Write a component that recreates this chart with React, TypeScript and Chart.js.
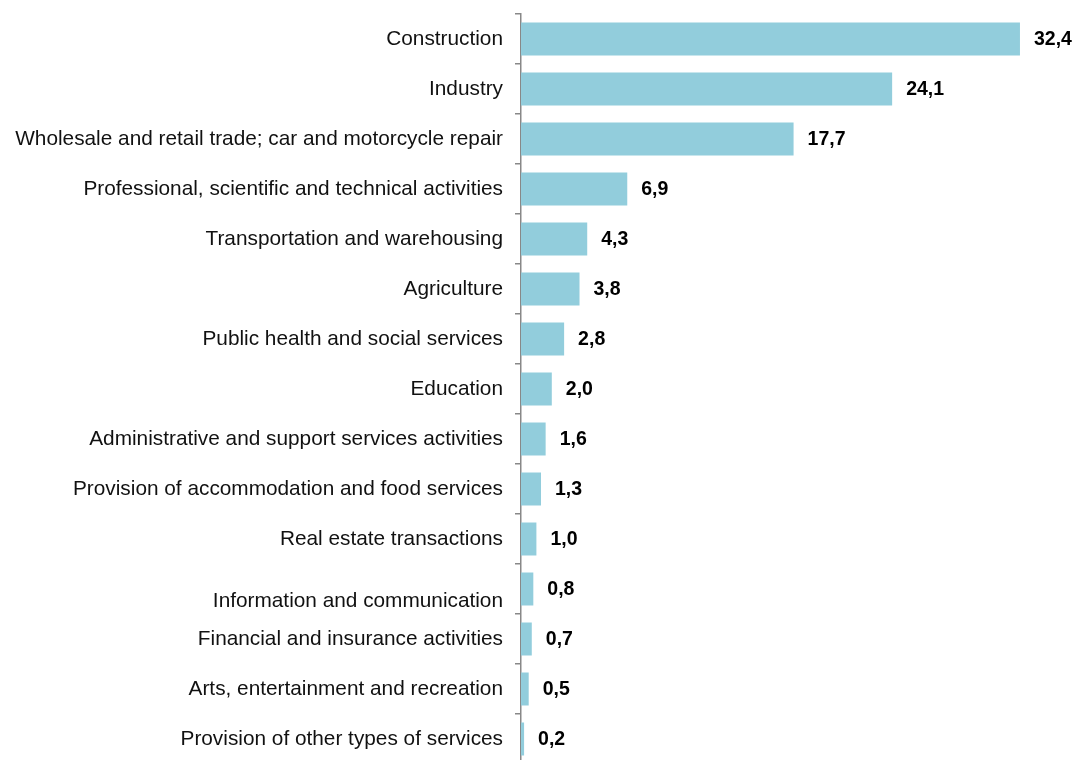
import React, { useEffect, useRef } from "react";
import { Chart, registerables } from "chart.js";

Chart.register(...registerables);

const categories: (string | string[])[] = [
  "Construction",
  "Industry",
  "Wholesale and retail trade; car and motorcycle repair",
  "Professional, scientific and technical activities",
  "Transportation and warehousing",
  "Agriculture",
  "Public health and social services",
  "Education",
  "Administrative and support services activities",
  "Provision of accommodation and food services",
  "Real estate transactions",
  ["", "Information and communication"],
  "Financial and insurance activities",
  "Arts, entertainment and recreation",
  "Provision of other types of services",
];

const values: number[] = [32.4, 24.1, 17.7, 6.9, 4.3, 3.8, 2.8, 2.0, 1.6, 1.3, 1.0, 0.8, 0.7, 0.5, 0.2];

const FONT = "'Liberation Sans', Arial, sans-serif";

const valueLabels = {
  id: "valueLabels",
  afterDatasetsDraw(chart: any) {
    const ctx = chart.ctx;
    const meta = chart.getDatasetMeta(0);
    ctx.save();
    ctx.font = `bold 19.5px ${FONT}`;
    ctx.fillStyle = "#000000";
    ctx.textAlign = "left";
    ctx.textBaseline = "middle";
    meta.data.forEach((bar: any, i: number) => {
      const txt = values[i].toFixed(1).replace(".", ",");
      ctx.fillText(txt, bar.x + 14, bar.y + 1);
    });
    ctx.restore();
  },
};

export default function App() {
  const ref = useRef<HTMLCanvasElement | null>(null);

  useEffect(() => {
    document.body.style.margin = "0";
    document.documentElement.style.overflow = "hidden";
    const chart = new Chart(ref.current as HTMLCanvasElement, {
      type: "bar",
      data: {
        labels: categories,
        datasets: [
          {
            data: values,
            backgroundColor: "#92CDDC",
            borderWidth: 0,
            barPercentage: 0.66,
            categoryPercentage: 1,
          },
        ],
      },
      plugins: [valueLabels],
      options: {
        indexAxis: "y",
        animation: false,
        responsive: false,
        maintainAspectRatio: false,
        layout: { padding: { top: 14, right: 16, bottom: 0, left: 0 } },
        plugins: {
          legend: { display: false },
          tooltip: { enabled: false },
          title: { display: false },
        },
        scales: {
          x: {
            display: false,
            min: 0,
            max: 35,
          },
          y: {
            afterFit: (s: any) => {
              s.width = 521;
              s.paddingTop = 0;
              s.paddingBottom = 0;
            },
            grid: {
              display: true,
              offset: true,
              drawOnChartArea: false,
              drawTicks: true,
              tickLength: 6,
              color: "#888888",
              lineWidth: 1.5,
            },
            border: { display: true, color: "#888888", width: 1.5 },
            ticks: {
              color: "#111111",
              padding: 12,
              font: { family: FONT, size: 20.8, lineHeight: 1.2 },
              autoSkip: false,
            },
          },
        },
      },
    });
    return () => chart.destroy();
  }, []);

  return (
    <div style={{ position: "absolute", left: 0, top: 0, width: 1076, height: 764 }}>
      <canvas ref={ref} width={1076} height={764} style={{ display: "block" }} />
    </div>
  );
}
